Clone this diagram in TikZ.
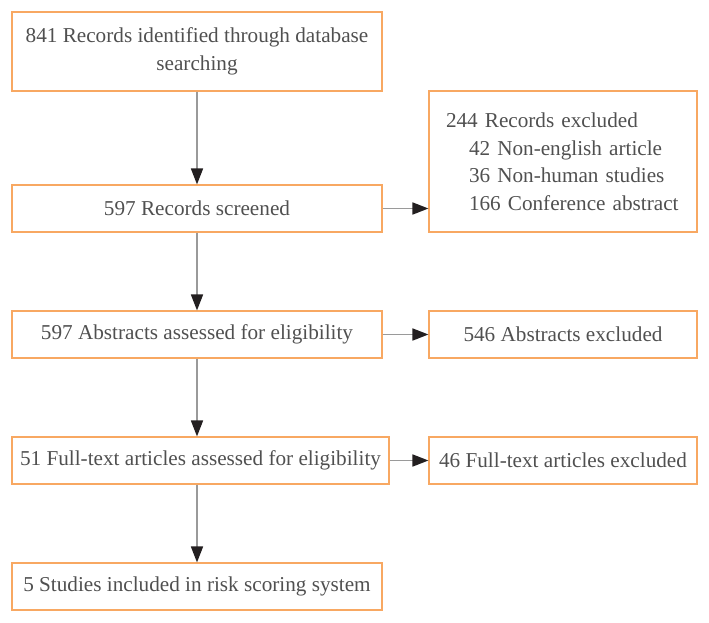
\documentclass[tikz,border=0pt]{standalone}
\usepackage{fontspec}
\setmainfont{Liberation Serif}
\usetikzlibrary{arrows.meta,positioning}
\definecolor{boxorange}{HTML}{F8A862}
\definecolor{txtgray}{HTML}{505050}
\definecolor{linegray}{HTML}{9A9A9A}
\definecolor{tipblack}{HTML}{231F20}
\tikzset{
  box/.style={draw=boxorange, line width=1.1pt, rectangle, inner sep=0pt,
    minimum width=370pt, minimum height=47pt, text=txtgray, align=center,
    font=\fontsize{21.2}{27.5}\selectfont},
  sidebox/.style={box, minimum width=268pt},
  flow/.style={draw=linegray, line width=1.7pt,
    -{Triangle[length=16pt,width=12pt,color=tipblack]}},
}

\begin{document}
\begin{tikzpicture}[x=1pt, y=-1pt]
        \useasboundingbox (0,0) rectangle (709,623);
        %nodes
        \node[box, minimum height=79pt] (ident) at (197, 51.5) {841 Records identified through database\\searching};
        \node[box] (screen) at (197, 208.5) {597 Records screened};
        \node[box] (abstr) at (197, 334.5) {597 Abstracts assessed for eligibility};
        \node[box, minimum width=377pt] (fulltxt) at (200.5, 460.5) {51 Full-text articles assessed for eligibility};
        \node[box] (incl) at (197, 586.5) {5 Studies included in risk scoring system};
        \node[sidebox, minimum height=141pt, align=left, text width=234pt] (recexcl) at (563, 161.5)
          {244 Records excluded\\
           \hspace*{23pt}42 Non-english article\\
           \hspace*{23pt}36 Non-human studies\\
           \hspace*{23pt}166 Conference abstract};
        \node[sidebox] (absexcl) at (563, 334.5) {546 Abstracts excluded};
        \node[sidebox] (ftexcl) at (563, 460.5) {46 Full-text articles excluded};
        %edges
        \path[flow] (ident) -- (screen);
        \path[flow] (screen) -- (abstr);
        \path[flow] (abstr.south) -- (abstr.south |- fulltxt.north);
        \path[flow] (incl.north |- fulltxt.south) -- (incl.north);
        \path[flow] (screen) -- (screen -| recexcl.west);
        \path[flow] (abstr) -- (absexcl);
        \path[flow] (fulltxt) -- (ftexcl);
\end{tikzpicture}
\end{document}
